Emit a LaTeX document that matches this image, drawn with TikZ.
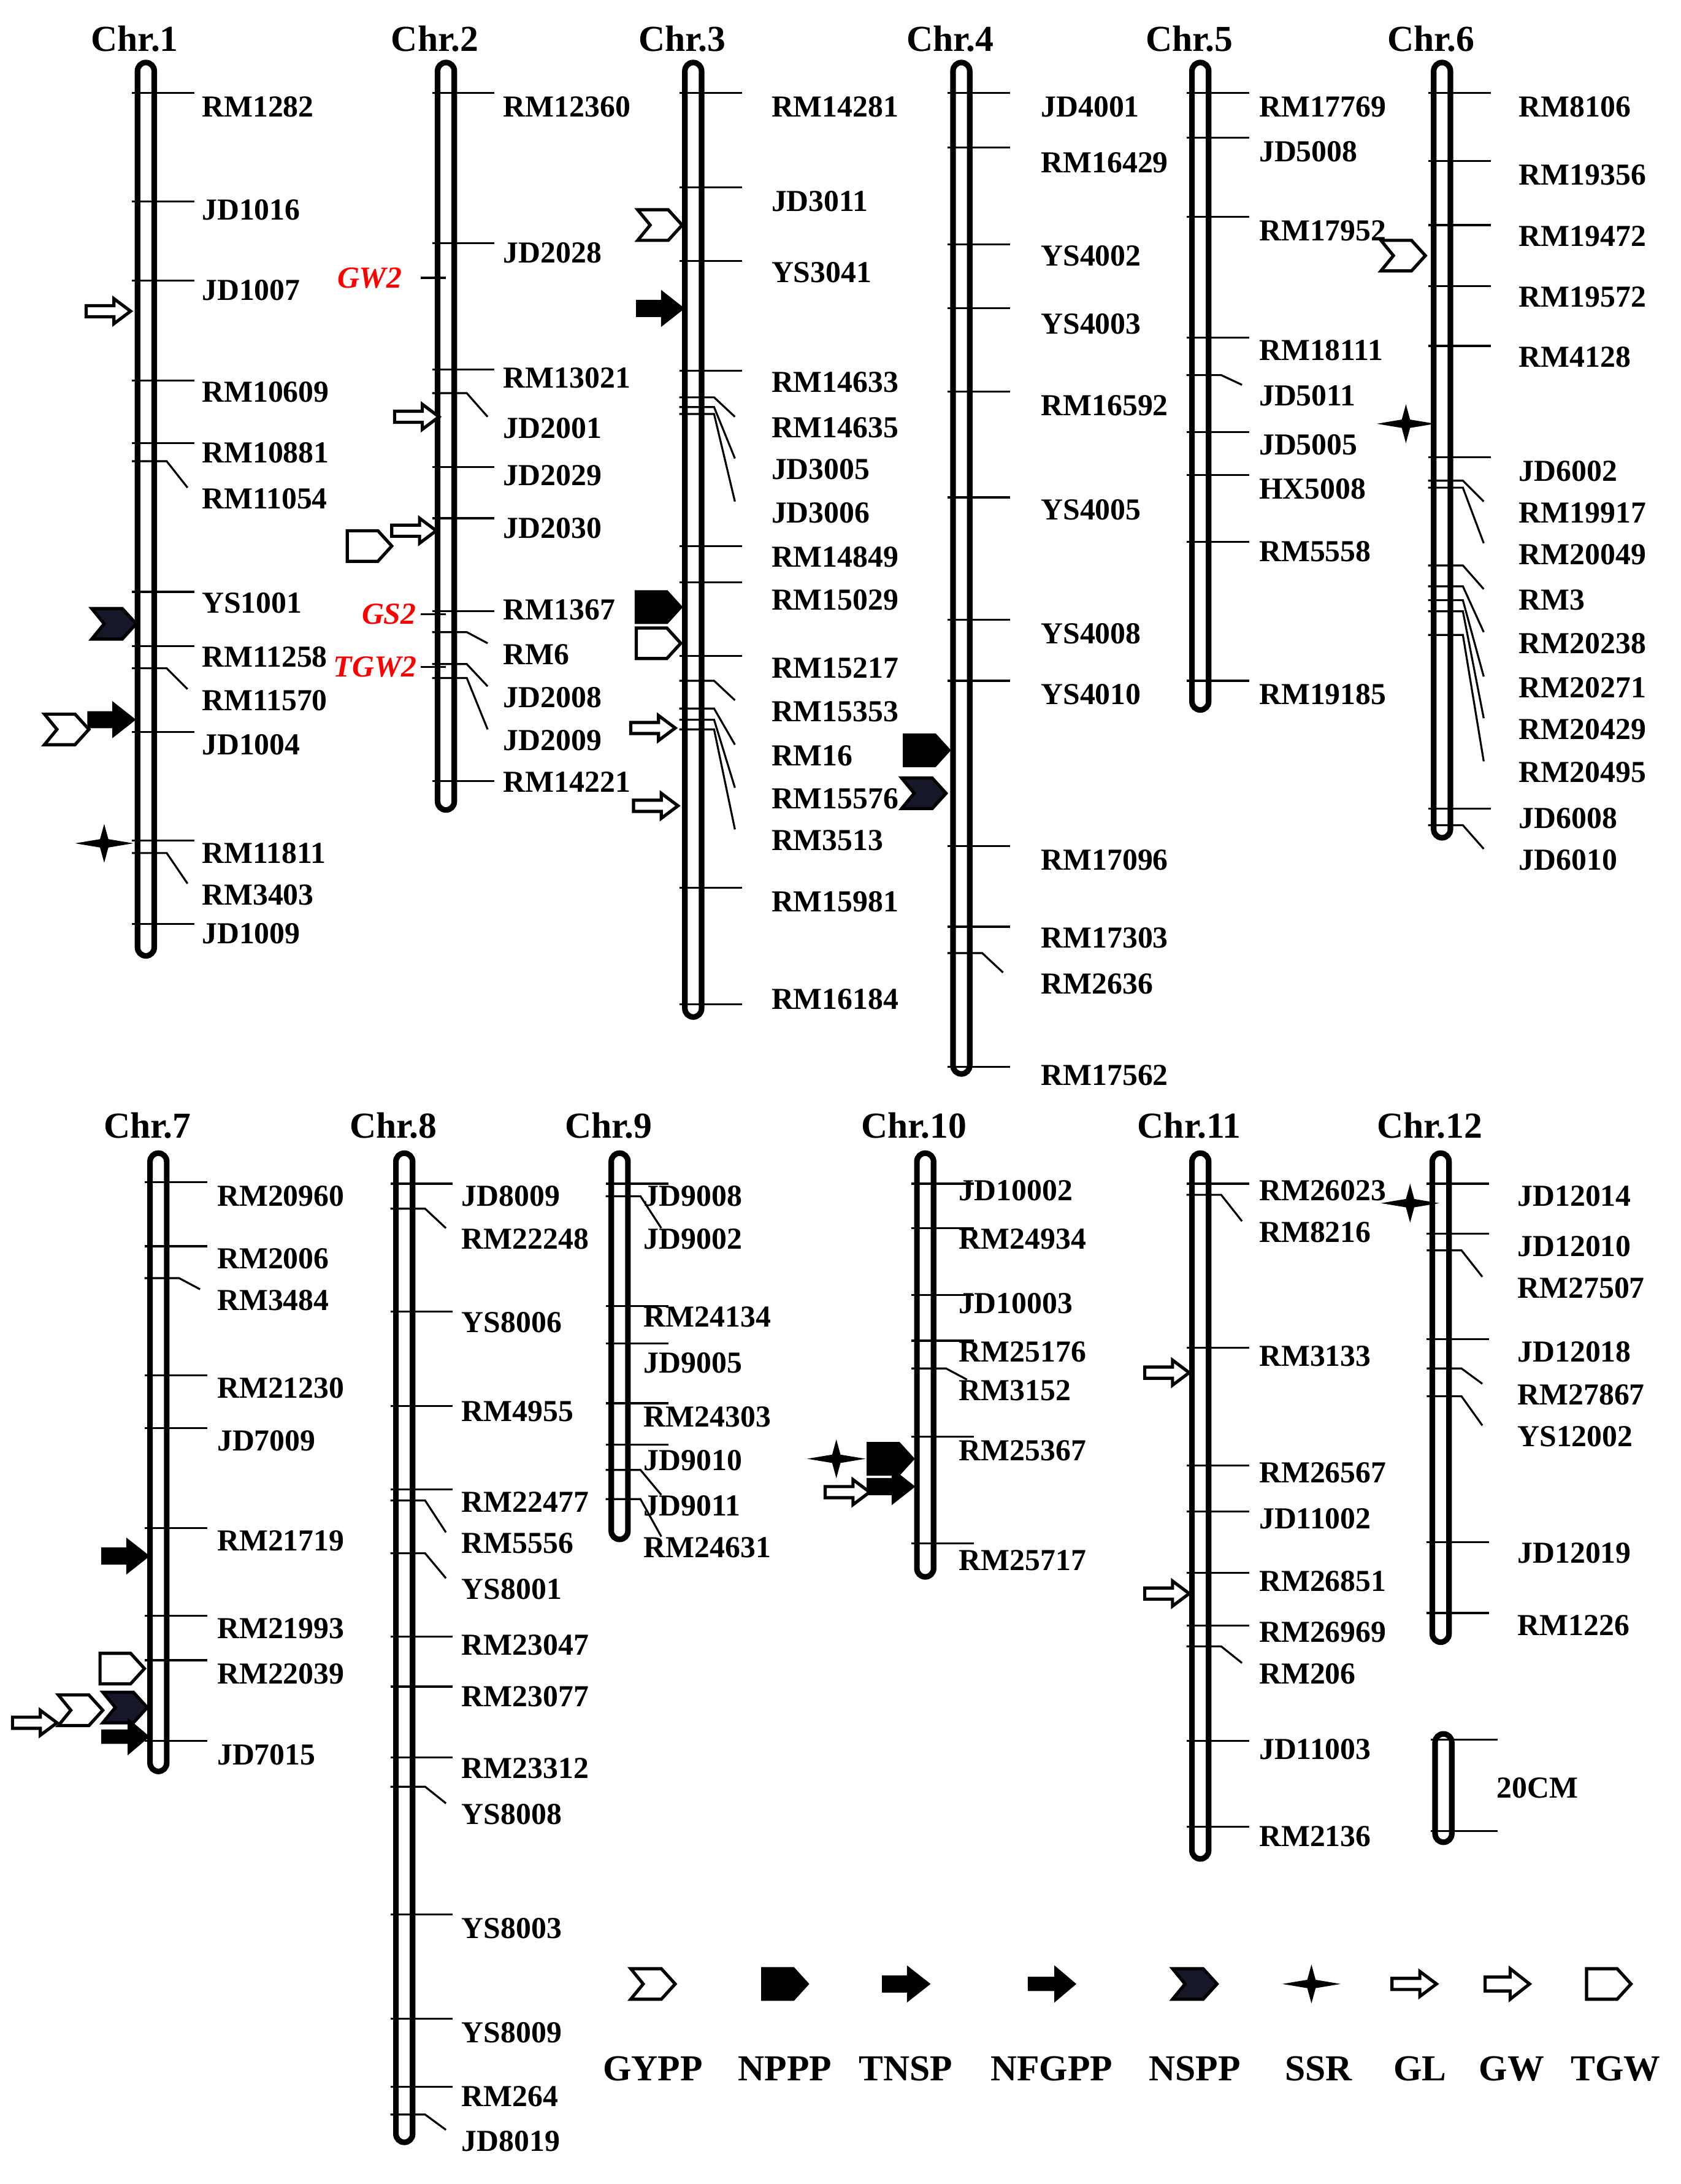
\documentclass[tikz,border=0pt]{standalone}
\usepackage{fontspec}
\setmainfont{Liberation Serif}
\definecolor{navy}{HTML}{16182A}
\begin{document}
\begin{tikzpicture}[x=0.02cm,y=-0.02cm,
  bar/.style={line width=2.3pt,rounded corners=0.12cm},
  tk/.style={line width=0.8pt},
  lab/.style={font=\fontsize{12.5}{14}\selectfont\bfseries,anchor=west,inner sep=0pt},
  ttl/.style={font=\fontsize{15}{17}\selectfont\bfseries,inner sep=0pt},
  red/.style={font=\fontsize{12.5}{14}\selectfont\bfseries\itshape,text=red,inner sep=0pt},
  sym/.style={line width=1.3pt,line join=miter}]
\useasboundingbox (0,0) rectangle (1210,1572);
\newcommand\chrom[6]{% x, top, bottom, title, titley, labelx
  \draw[bar,fill=white] (#1-6,#2) rectangle (#1+6,#3);
  \node[ttl] at (#1-8,#5) {#4};
  \def\cx{#1}\def\lx{#6}}
\newcommand\mks[1]{\foreach \yt/\yl/\lab in {#1}{%
  \pgfmathsetmacro\dd{\yl-\yt}%
  \ifdim\dd pt>14pt
    \draw[tk] (\cx-10,\yt)--(\cx+15,\yt)--(\cx+30,\yl-8);
  \else
    \draw[tk] (\cx-10,\yt)--(\cx+35,\yt);
  \fi
  \node[lab] at (\lx,\yl) {\lab};}}
% shapes
\newcommand\chev[3][white]{\draw[sym,fill=#1] (#2-16,#3-11)--(#2+6,#3-11)--(#2+16,#3)--(#2+6,#3+11)--(#2-16,#3+11)--(#2-7,#3)--cycle;}
\newcommand\pent[3][white]{\draw[sym,fill=#1] (#2-16,#3-11)--(#2+6,#3-11)--(#2+16,#3)--(#2+6,#3+11)--(#2-16,#3+11)--cycle;}
\newcommand\arr[3][white]{\draw[sym,fill=#1] (#2-16,#3-5)--(#2+2,#3-5)--(#2+2,#3-11)--(#2+16,#3)--(#2+2,#3+11)--(#2+2,#3+5)--(#2-16,#3+5)--cycle;}
\newcommand\garr[2]{\draw[sym,fill=white] (#1-16,#2-4)--(#1+4,#2-4)--(#1+4,#2-9)--(#1+16,#2)--(#1+4,#2+9)--(#1+4,#2+4)--(#1-16,#2+4)--cycle;}
\newcommand\nfg[2]{\draw[sym,fill=black] (#1-16,#2-4)--(#1+3,#2-4)--(#1+3,#2-11)--(#1+16,#2)--(#1+3,#2+11)--(#1+3,#2+4)--(#1-16,#2+4)--cycle;}
\newcommand\ssr[2]{\fill (#1-21,#2)--(#1-3,#2-3)--(#1,#2-14)--(#1+3,#2-3)--(#1+21,#2)--(#1+3,#2+3)--(#1,#2+14)--(#1-3,#2+3)--cycle;}

% Chr.1
\chrom{105}{45}{688}{Chr.1}{28}{145}
\mks{67/77/RM1282,145/151/JD1016,202/209/JD1007,274/282/RM10609,319/326/RM10881,332/359/RM11054,426/434/YS1001,465/473/RM11258,481/504/RM11570,527/536/JD1004,605/614/RM11811,614/644/RM3403,665/672/JD1009}
% Chr.2
\chrom{321}{45}{583}{Chr.2}{28}{362}
\mks{67/77/RM12360,175/182/JD2028,266/272/RM13021,283/308/JD2001,336/342/JD2029,373/380/JD2030,440/439/RM1367,455/471/RM6,478/502/JD2008,488/533/JD2009,562/563/RM14221}
\foreach \y/\t/\xx in {200/GW2/266,442/GS2/280,480/TGW2/270}{\draw[tk] (303,\y)--(321,\y); \node[red] at (\xx,\y) {\t};}
% Chr.3
\chrom{499}{45}{732}{Chr.3}{28}{555}
\mks{67/77/RM14281,135/145/JD3011,188/196/YS3041,267/275/RM14633,286/308/RM14635,293/338/JD3005,298/369/JD3006,393/401/RM14849,419/432/RM15029,472/481/RM15217,490/512/RM15353,510/544/RM16,518/575/RM15576,525/605/RM3513,639/649/RM15981,723/719/RM16184}
% Chr.4
\chrom{692}{45}{773}{Chr.4}{28}{749}
\mks{67/77/JD4001,106/117/RM16429,176/184/YS4002,222/233/YS4003,282/292/RM16592,358/367/YS4005,446/456/YS4008,490/500/YS4010,609/619/RM17096,667/675/RM17303,686/708/RM2636,768/774/RM17562}
% Chr.5
\chrom{864}{45}{511}{Chr.5}{28}{906}
\mks{67/77/RM17769,99/109/JD5008,156/166/RM17952,243/252/RM18111,270/285/JD5011,311/320/JD5005,342/352/HX5008,390/397/RM5558,490/500/RM19185}
% Chr.6
\chrom{1038}{45}{603}{Chr.6}{28}{1093}
\mks{67/77/RM8106,116/126/RM19356,162/170/RM19472,206/214/RM19572,249/257/RM4128,329/339/JD6002,346/369/RM19917,351/399/RM20049,407/432/RM3,422/463/RM20238,432/495/RM20271,440/525/RM20429,457/556/RM20495,582/589/JD6008,594/619/JD6010}
% Chr.7
\chrom{114}{830}{1275}{Chr.7}{810}{156}
\mks{851/861/RM20960,897/906/RM2006,920/936/RM3484,990/999/RM21230,1028/1037/JD7009,1100/1109/RM21719,1163/1172/RM21993,1195/1205/RM22039,1253/1263/JD7015}
% Chr.8
\chrom{291}{830}{1542}{Chr.8}{810}{332}
\mks{852/861/JD8009,870/892/RM22248,944/952/YS8006,1012/1016/RM4955,1072/1081/RM22477,1080/1111/RM5556,1118/1144/YS8001,1178/1184/RM23047,1214/1221/RM23077,1265/1273/RM23312,1286/1306/YS8008,1378/1388/YS8003,1453/1463/YS8009,1502/1509/RM264,1522/1541/JD8019}
% Chr.9
\chrom{446}{830}{1108}{Chr.9}{810}{463}
\mks{852/861/JD9008,861/892/JD9002,940/948/RM24134,967/981/JD9005,1010/1020/RM24303,1040/1051/JD9010,1058/1084/JD9011,1079/1114/RM24631}
% Chr.10
\chrom{666}{830}{1135}{Chr.10}{810}{690}
\mks{852/857/JD10002,884/892/RM24934,932/938/JD10003,965/973/RM25176,985/1001/RM3152,1034/1044/RM25367,1111/1123/RM25717}
% Chr.11
\chrom{864}{830}{1338}{Chr.11}{810}{906}
\mks{852/857/RM26023,860/887/RM8216,970/976/RM3133,1055/1060/RM26567,1088/1093/JD11002,1132/1138/RM26851,1170/1175/RM26969,1185/1205/RM206,1253/1259/JD11003,1315/1322/RM2136}
% Chr.12
\chrom{1037}{830}{1182}{Chr.12}{810}{1092}
\mks{852/861/JD12014,888/897/JD12010,900/927/RM27507,964/973/JD12018,985/1004/RM27867,1005/1034/YS12002,1110/1118/JD12019,1161/1170/RM1226}
% scale
\draw[bar,fill=white] (1033,1248) rectangle (1045,1326);
\draw[tk] (1030,1252)--(1078,1252); \draw[tk] (1030,1318)--(1078,1318);
\node[lab] at (1077,1287) {20CM};

% QTL symbols
\garr{78}{224} \chev[navy]{82}{449} \chev{48}{525} \arr[black]{80}{518} \ssr{75}{607}
\garr{300}{300} \pent{266}{393} \garr{298}{382}
\chev{475}{162} \arr[black]{475}{222} \pent[black]{474}{437} \pent{474}{463} \garr{470}{524} \garr{472}{580}
\pent[black]{667}{540} \chev[navy]{665}{571}
\chev{1010}{184} \ssr{1012}{305}
\arr[black]{90}{1120} \pent{88}{1201} \garr{25}{1240} \chev{58}{1231} \chev[navy]{90}{1229} \nfg{90}{1250}
\ssr{602}{1050} \pent[black]{641}{1050} \garr{610}{1074} \arr[black]{641}{1070}
\garr{840}{988} \garr{840}{1147}
\ssr{1015}{866}
% legend
\chev{470}{1428} \pent[black]{565}{1428} \arr[black]{652}{1428} \nfg{757}{1428} \chev[navy]{860}{1428} \ssr{944}{1428} \garr{1018}{1428} \arr{1085}{1428} \pent{1158}{1428}
\foreach \xx/\t in {470/GYPP,565/NPPP,652/TNSP,757/NFGPP,860/NSPP,949/SSR,1022/GL,1088/GW,1163/TGW}{\node[ttl] at (\xx,1489) {\t};}
\end{tikzpicture}
\end{document}
